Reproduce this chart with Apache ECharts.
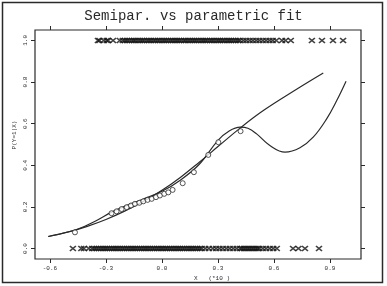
<!DOCTYPE html>
<html>
<head>
<meta charset="utf-8">
<script src="https://cdn.jsdelivr.net/npm/echarts@6/dist/echarts.min.js"></script>
<style>
  html, body { margin: 0; padding: 0; background: #fff; }
  #chart { width: 387px; height: 286px; }
</style>
</head>
<body>
<div id="chart"></div>
<script>
// tick positions
var xTicks = [-0.6, -0.3, 0.0, 0.3, 0.6, 0.9];
var yTicks = [0.0, 0.2, 0.4, 0.6, 0.8, 1.0];

// observations with Y=1 (top rug)
var topRugX = [
  -0.343, -0.335, -0.312, -0.296, -0.288, -0.262, -0.226, -0.21,
  -0.198, -0.187, -0.175, -0.162, -0.151, -0.141, -0.128, -0.116, -0.105, -0.094,
  -0.081, -0.07, -0.059, -0.046, -0.035, -0.023, -0.012, 0.001, 0.012, 0.023,
  0.035, 0.047, 0.058, 0.07, 0.081, 0.092, 0.104, 0.117, 0.127, 0.139, 0.151,
  0.163, 0.174, 0.185, 0.197, 0.21, 0.221, 0.232, 0.243, 0.256, 0.267, 0.278,
  0.291, 0.302, 0.313, 0.325, 0.336, 0.349, 0.36, 0.371, 0.383, 0.395, 0.407, 0.418,
  0.436, 0.452, 0.47, 0.487, 0.505, 0.522, 0.54, 0.558, 0.576, 0.593, 0.612,
  0.643, 0.662, 0.69,
  0.803, 0.857, 0.916, 0.97
];

// observations with Y=0 (bottom rug)
var bottomRugX = [
  -0.477, -0.432, -0.418, -0.392, -0.374,
  -0.362, -0.351, -0.339, -0.327, -0.315, -0.304, -0.293, -0.281, -0.269, -0.258,
  -0.247, -0.236, -0.224, -0.212, -0.201, -0.189, -0.178, -0.166, -0.155, -0.144,
  -0.132, -0.12, -0.109, -0.097, -0.086, -0.075, -0.063, -0.051, -0.04, -0.028,
  -0.017, -0.005, 0.006, 0.018, 0.029, 0.041, 0.052, 0.064, 0.076, 0.087, 0.098,
  0.11, 0.121, 0.133, 0.145, 0.156, 0.167, 0.179, 0.19, 0.202, 0.213,
  0.232, 0.251, 0.272, 0.29, 0.308, 0.326, 0.345, 0.363, 0.382, 0.4,
  0.418, 0.428, 0.439, 0.449, 0.46, 0.47, 0.481, 0.491, 0.502, 0.512, 0.522,
  0.54, 0.558, 0.577, 0.596, 0.615,
  0.702, 0.731, 0.766, 0.841
];

// binned proportions (circles)
var binX = [-0.466, -0.27, -0.243, -0.216, -0.189, -0.166, -0.145, -0.121, -0.1, -0.077,
  -0.055, -0.032, -0.011, 0.012, 0.034, 0.057, 0.111, 0.171, 0.248, 0.302, 0.421];
var binP = [0.078, 0.17, 0.179, 0.19, 0.199, 0.207, 0.215, 0.22, 0.227, 0.234,
  0.239, 0.247, 0.255, 0.263, 0.27, 0.282, 0.314, 0.367, 0.45, 0.511, 0.564];

// parametric (logistic) fit
var paramX = [-0.609, -0.5, -0.4, -0.3, -0.2, -0.1, 0.0, 0.1, 0.2, 0.3, 0.42, 0.543, 0.721, 0.864];
var paramP = [0.058, 0.08, 0.107, 0.14, 0.18, 0.226, 0.28, 0.343, 0.415, 0.49, 0.58, 0.663, 0.765, 0.843];

// semiparametric fit
var semiX = [-0.609, -0.45, -0.35, -0.27, -0.2, -0.1, 0.0, 0.1, 0.2, 0.3, 0.36, 0.42, 0.46,
  0.507, 0.578, 0.659, 0.739, 0.81, 0.882, 0.936, 0.986];
var semiP = [0.058, 0.094, 0.135, 0.175, 0.203, 0.238, 0.275, 0.33, 0.405, 0.52, 0.565, 0.583, 0.578,
  0.551, 0.495, 0.463, 0.484, 0.535, 0.623, 0.711, 0.804];

var ink = '#2a2a2a';
var mono = '"Liberation Mono", "DejaVu Sans Mono", monospace';
var crossSymbol = 'path://M0,0L10,10M10,0L0,10';

function pairs(xs, ys) {
  return xs.map(function (x, i) { return [x, ys[i]]; });
}
function rug(xs, y) {
  return xs.map(function (x) { return [x, y]; });
}

var tickStyle = { color: ink, width: 1 };

var myChart = echarts.init(document.getElementById('chart'), null, { renderer: 'canvas' });
myChart.setOption({
  animation: false,
  backgroundColor: '#fff',
  title: {
    text: 'Semipar. vs parametric fit',
    left: 'center',
    top: 4,
    textStyle: { fontFamily: mono, fontSize: 14, fontWeight: 'normal', color: ink }
  },
  grid: {
    left: 35, right: 26, top: 30, bottom: 27,
    show: true, borderColor: ink, borderWidth: 1.2
  },
  xAxis: [
    {
      type: 'value', min: -0.68, max: 1.066, position: 'bottom',
      axisLine: { show: false, onZero: false },
      splitLine: { show: false },
      axisTick: { show: true, length: 4, customValues: xTicks, lineStyle: tickStyle },
      axisLabel: {
        customValues: xTicks, margin: 6, fontSize: 6, fontFamily: mono, color: ink,
        formatter: function (v) { return v.toFixed(1); }
      }
    },
    {
      type: 'value', min: -0.68, max: 1.066, position: 'top',
      axisLine: { show: false, onZero: false },
      splitLine: { show: false },
      axisTick: { show: true, length: 4, customValues: xTicks, lineStyle: tickStyle },
      axisLabel: { show: false }
    }
  ],
  yAxis: [
    {
      type: 'value', min: -0.05, max: 1.05, position: 'left',
      axisLine: { show: false, onZero: false },
      splitLine: { show: false },
      axisTick: { show: true, length: 4, customValues: yTicks, lineStyle: tickStyle },
      axisLabel: {
        customValues: yTicks, rotate: 90, margin: 7, fontSize: 6, fontFamily: mono, color: ink,
        formatter: function (v) { return v.toFixed(1); }
      }
    },
    {
      type: 'value', min: -0.05, max: 1.05, position: 'right',
      axisLine: { show: false, onZero: false },
      splitLine: { show: false },
      axisTick: { show: true, length: 4, customValues: yTicks, lineStyle: tickStyle },
      axisLabel: { show: false }
    }
  ],
  graphic: [
    {
      type: 'rect', silent: true,
      shape: { x: 2.5, y: 2.5, width: 380, height: 280 },
      style: { fill: 'none', stroke: ink, lineWidth: 1.5 }
    },
    {
      type: 'text', x: 14, y: 135, rotation: Math.PI / 2,
      style: { text: 'P(Y=1|X)', fontFamily: mono, fontSize: 6, fill: ink, align: 'center', verticalAlign: 'middle' }
    },
    {
      type: 'text', x: 212, y: 278,
      style: { text: 'X   (*10 )', fontFamily: mono, fontSize: 6, fill: ink, align: 'center', verticalAlign: 'middle' }
    }
  ],
  series: [
    {
      name: 'y1', type: 'scatter', data: rug(topRugX, 1),
      symbol: crossSymbol, symbolSize: [6, 5],
      itemStyle: { color: 'rgba(0,0,0,0)', borderColor: '#111', borderWidth: 1.5 }
    },
    {
      name: 'y0', type: 'scatter', data: rug(bottomRugX, 0),
      symbol: crossSymbol, symbolSize: [6, 5],
      itemStyle: { color: 'rgba(0,0,0,0)', borderColor: '#111', borderWidth: 1.5 }
    },
    {
      name: 'parametric', type: 'line', data: pairs(paramX, paramP),
      smooth: 0.4, showSymbol: false,
      lineStyle: { color: ink, width: 1.2 }
    },
    {
      name: 'semipar', type: 'line', data: pairs(semiX, semiP),
      smooth: 0.4, showSymbol: false,
      lineStyle: { color: ink, width: 1.2 }
    },
    {
      name: 'bins', type: 'scatter', data: pairs(binX, binP),
      symbol: 'circle', symbolSize: 5, z: 5,
      itemStyle: { color: '#fff', borderColor: ink, borderWidth: 1 }
    }
  ]
});
</script>
</body>
</html>
